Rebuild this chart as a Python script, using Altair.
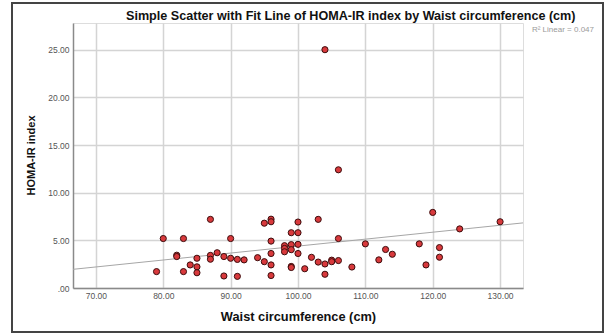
import altair as alt
import pandas as pd

waist = [79, 80, 82, 82, 83, 83, 84, 85, 85, 85,
         87, 87, 87, 88, 89, 89, 90, 90, 91, 91,
         92, 94, 95, 95, 96, 96, 96, 96, 96, 96,
         98, 98, 98, 99, 99, 99, 99, 99, 100, 100,
         100, 100, 101, 102, 103, 103, 104, 104, 104, 105,
         105, 106, 106, 106, 108, 110, 112, 113, 114, 118,
         119, 120, 121, 121, 124, 130]
homa = [1.72, 5.19, 3.44, 3.30, 5.19, 1.72, 2.42, 3.12, 2.22, 1.60,
        7.20, 3.42, 3.02, 3.70, 3.30, 1.26, 5.19, 3.12, 3.00, 1.22,
        2.95, 3.18, 2.76, 6.80, 7.22, 6.95, 4.92, 3.62, 2.42, 1.31,
        4.44, 4.15, 3.80, 5.80, 4.55, 4.02, 2.26, 2.15, 6.92, 5.80,
        4.58, 3.62, 2.02, 3.22, 7.20, 2.72, 2.52, 1.44, 25.00, 2.92,
        2.76, 12.40, 5.19, 2.88, 2.20, 4.63, 2.95, 4.04, 3.54, 4.63,
        2.42, 7.93, 4.24, 3.23, 6.20, 6.95]

fit_x = [66.6, 133.4]
fit_y = [1.96, 6.83]

x_ticks = [70, 80, 90, 100, 110, 120, 130]
y_ticks = [0, 5, 10, 15, 20, 25]

title_text = "Simple Scatter with Fit Line of HOMA-IR index by Waist circumference (cm)"
r2_text = "R² Linear = 0.047"

pts = pd.DataFrame({"waist": waist, "homa": homa})
fit = pd.DataFrame({"waist": fit_x, "homa": fit_y})

FONT = "Liberation Sans"

xscale = alt.Scale(domain=[66.6, 133.4], nice=False, zero=False)
yscale = alt.Scale(domain=[0, 27.8], nice=False, zero=False)

label_expr = "datum.value == 0 ? '.00' : format(datum.value, '.2f')"

xaxis = alt.Axis(values=x_ticks, labelExpr=label_expr, title="Waist circumference (cm)",
                 grid=True, gridColor="#d4d4d4", gridWidth=1.5,
                 domainColor="#8a8a8a", domainWidth=1.5, ticks=False,
                 labelFont=FONT, labelFontSize=8.5, labelColor="#555555", labelPadding=3,
                 titleFont=FONT, titleFontSize=12.8, titleFontWeight="bold", titleColor="#111111",
                 titlePadding=11)
yaxis = alt.Axis(values=y_ticks, labelExpr=label_expr, title="HOMA-IR index",
                 grid=True, gridColor="#d4d4d4", gridWidth=1.5,
                 domainColor="#8a8a8a", domainWidth=1.5, ticks=False,
                 labelFont=FONT, labelFontSize=8.5, labelColor="#555555", labelPadding=4,
                 titleFont=FONT, titleFontSize=11, titleFontWeight="bold", titleColor="#111111",
                 titleX=-42, titleY=132, titleAlign="center", titleBaseline="middle", titleAngle=270)

points = alt.Chart(pts).mark_circle(
    size=38, color="#d8393c", stroke="#3d0d0d", strokeWidth=1, opacity=1
).encode(
    x=alt.X("waist:Q", scale=xscale, axis=xaxis),
    y=alt.Y("homa:Q", scale=yscale, axis=yaxis),
)

line = alt.Chart(fit).mark_line(color="#a6a6a6", strokeWidth=1, clip=True).encode(
    x=alt.X("waist:Q", scale=xscale),
    y=alt.Y("homa:Q", scale=yscale),
)

title = alt.Chart(pd.DataFrame({"t": [title_text]})).mark_text(
    align="left", baseline="alphabetic", font=FONT, fontSize=12.6, fontWeight="bold", color="#111111"
).encode(text="t:N", x=alt.value(53), y=alt.value(-3))

r2 = alt.Chart(pd.DataFrame({"t": [r2_text]})).mark_text(
    align="right", baseline="middle", font=FONT, fontSize=8, color="#9a9a9a"
).encode(text="t:N", x=alt.value(521), y=alt.value(7))

frame = alt.Chart(pd.DataFrame({"t": [0]})).mark_rect(
    fill=None, stroke="#444444", strokeWidth=2
).encode(x=alt.value(-61), x2=alt.value(530), y=alt.value(-20), y2=alt.value(309))

chart = alt.layer(line, points, title, r2, frame).properties(
    width=450, height=265,
    autosize=alt.AutoSizeParams(type="none"),
    padding={"left": 73, "top": 23, "right": 83, "bottom": 47},
).configure_view(stroke=None).configure(background="white")

chart.save("out.html", embed_options={"renderer": "svg", "actions": False})
